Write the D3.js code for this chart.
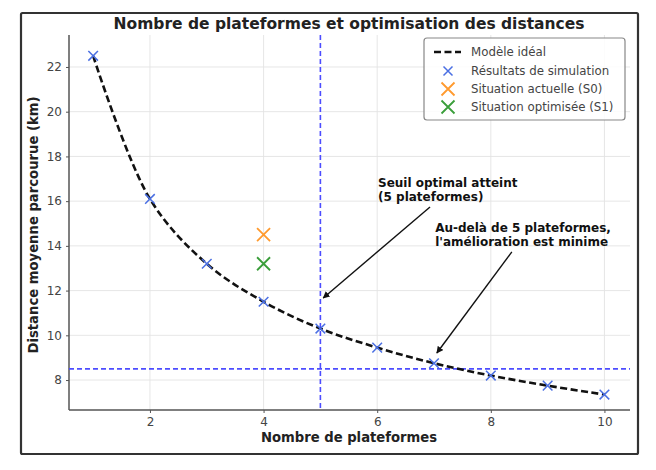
<!DOCTYPE html>
<html><head><meta charset="utf-8">
<script src="https://cdn.jsdelivr.net/npm/d3@7"></script>
<style>
body{margin:0;background:#fff;}
text{font-family:"DejaVu Sans",sans-serif;}
</style></head>
<body><svg id="c" width="656" height="470"></svg>
<script>
const platforms = [1,2,3,4,5,6,7,8,9,10];
const simulation = [22.5,16.1,13.2,11.5,10.3,9.45,8.75,8.2,7.75,7.35];
const idealModel = [22.5,16.1,13.2,11.5,10.3,9.45,8.75,8.2,7.75,7.35];
const situationS0 = {x:4, y:14.5};
const situationS1 = {x:4, y:13.2};
const thresholdX = 5;
const thresholdY = 8.5;
const xTicks = [2,4,6,8,10];
const yTicks = [8,10,12,14,16,18,20,22];
const legendLabels = ["Modèle idéal","Résultats de simulation","Situation actuelle (S0)","Situation optimisée (S1)"];
const annotations = [
  {lines:["Seuil optimal atteint","(5 plateformes)"], text:[6.015,16.63], tip:[5.05,11.67], start:[6.93,15.74]},
  {lines:["Au-delà de 5 plateformes,","l'amélioration est minime"], text:[7.02,14.62], tip:[7.05,9.21], start:[8.37,13.73]}
];

const svg = d3.select("#c");
const L=69, R=630, T=35, B=410;
const x = d3.scaleLinear().domain([0.575,10.45]).range([L,R]);
const y = d3.scaleLinear().domain([6.66,23.43]).range([B,T]);

// outer frame
svg.append("rect").attr("x",21).attr("y",13).attr("width",617).attr("height",441)
  .attr("fill","none").attr("stroke","#333").attr("stroke-width",2.2).attr("rx",1.5);

// grid
const g = svg.append("g");
g.selectAll(".gx").data(xTicks).join("line").attr("x1",d=>x(d)).attr("x2",d=>x(d))
  .attr("y1",T).attr("y2",B).attr("stroke","#e3e3e3").attr("stroke-width",0.9);
g.selectAll(".gy").data(yTicks).join("line").attr("y1",d=>y(d)).attr("y2",d=>y(d))
  .attr("x1",L).attr("x2",R).attr("stroke","#e3e3e3").attr("stroke-width",0.9);

// axes
const xAxis = d3.axisBottom(x).tickValues(xTicks).tickSize(3).tickPadding(4);
const yAxis = d3.axisLeft(y).tickValues(yTicks).tickSize(3).tickPadding(4);
const gx = svg.append("g").attr("transform",`translate(0,${B})`).call(xAxis);
const gy = svg.append("g").attr("transform",`translate(${L},0)`).call(yAxis);
[gx,gy].forEach(a=>{
  a.select(".domain").attr("stroke","#555").attr("stroke-width",1.5);
  a.selectAll(".tick line").attr("stroke","#555");
  a.selectAll(".tick text").attr("fill","#444").style("font-size","12px").style("font-family","DejaVu Sans");
});
gx.select(".domain").attr("d",`M${L},0H${R}`);
gy.select(".domain").attr("d",`M0,${B}V${T}`);

// reference lines
svg.append("line").attr("x1",x(thresholdX)).attr("x2",x(thresholdX)).attr("y1",T).attr("y2",B)
  .attr("stroke","#4d4dff").attr("stroke-width",1.6).attr("stroke-dasharray","5,3");
svg.append("line").attr("x1",L).attr("x2",R).attr("y1",y(thresholdY)).attr("y2",y(thresholdY))
  .attr("stroke","#4d4dff").attr("stroke-width",1.6).attr("stroke-dasharray","5,3");

// ideal model
const line = d3.line().x((d,i)=>x(platforms[i])).y(d=>y(d)).curve(d3.curveCatmullRom.alpha(0.5));
svg.append("path").datum(idealModel).attr("d",line).attr("fill","none")
  .attr("stroke","#111").attr("stroke-width",2.6).attr("stroke-dasharray","7,3.5")
  .attr("stroke-linejoin","round");

// X marker
function cross(sel, cx, cy, r, color, w){
  sel.append("path").attr("d",`M${cx-r},${cy-r}L${cx+r},${cy+r}M${cx-r},${cy+r}L${cx+r},${cy-r}`)
    .attr("stroke",color).attr("stroke-width",w).attr("fill","none");
}
const blue="#4a6fe3", orange="#ff9a2e", green="#3a9e3a";
platforms.forEach((p,i)=>cross(svg, x(p), y(simulation[i]), 4.8, blue, 1.5));
cross(svg, x(situationS0.x), y(situationS0.y), 6.5, orange, 1.8);
cross(svg, x(situationS1.x), y(situationS1.y), 6.5, green, 1.8);

// annotations
svg.append("defs").append("marker").attr("id","ah").attr("viewBox","0 0 10 10")
  .attr("refX",9).attr("refY",5).attr("markerWidth",7).attr("markerHeight",7)
  .attr("markerUnits","userSpaceOnUse").attr("orient","auto")
  .append("path").attr("d","M0,0L10,5L0,10z").attr("fill","#111");
annotations.forEach(a=>{
  const t = svg.append("text").attr("x",x(a.text[0])).attr("y",y(a.text[1]))
    .style("font-size","12px").style("font-weight","bold").attr("fill","#111");
  a.lines.forEach((s,i)=>t.append("tspan").attr("x",x(a.text[0])).attr("dy",i?14:0).text(s));
  svg.append("line").attr("x1",x(a.start[0])).attr("y1",y(a.start[1]))
    .attr("x2",x(a.tip[0])).attr("y2",y(a.tip[1])).attr("stroke","#111").attr("stroke-width",1.4)
    .attr("marker-end","url(#ah)");
});

// title and labels
svg.append("text").attr("x",349).attr("y",29).attr("text-anchor","middle")
  .style("font-size","15.5px").style("font-weight","bold").attr("fill","#222")
  .text("Nombre de plateformes et optimisation des distances");
svg.append("text").attr("x",349).attr("y",442).attr("text-anchor","middle")
  .style("font-size","13.2px").style("font-weight","bold").attr("fill","#222")
  .text("Nombre de plateformes");
svg.append("text").attr("transform","translate(38,225) rotate(-90)").attr("text-anchor","middle")
  .style("font-size","13.2px").style("font-weight","bold").attr("fill","#222")
  .text("Distance moyenne parcourue (km)");

// legend
const lg = svg.append("g");
lg.append("rect").attr("x",424).attr("y",38).attr("width",201).attr("height",82).attr("rx",3)
  .attr("fill","#fff").attr("fill-opacity",0.85).attr("stroke","#888").attr("stroke-width",1.2);
const ly = [52,71,89,107];
lg.append("line").attr("x1",434).attr("x2",461).attr("y1",ly[0]).attr("y2",ly[0])
  .attr("stroke","#111").attr("stroke-width",2.6).attr("stroke-dasharray","7,3.5");
cross(lg, 448, ly[1], 4.5, blue, 1.5);
cross(lg, 448, ly[2], 6.5, orange, 1.8);
cross(lg, 448, ly[3], 6.5, green, 1.8);
legendLabels.forEach((s,i)=>lg.append("text").attr("x",471).attr("y",ly[i]+4)
  .style("font-size","11.8px").attr("fill","#444").text(s));
</script></body></html>
